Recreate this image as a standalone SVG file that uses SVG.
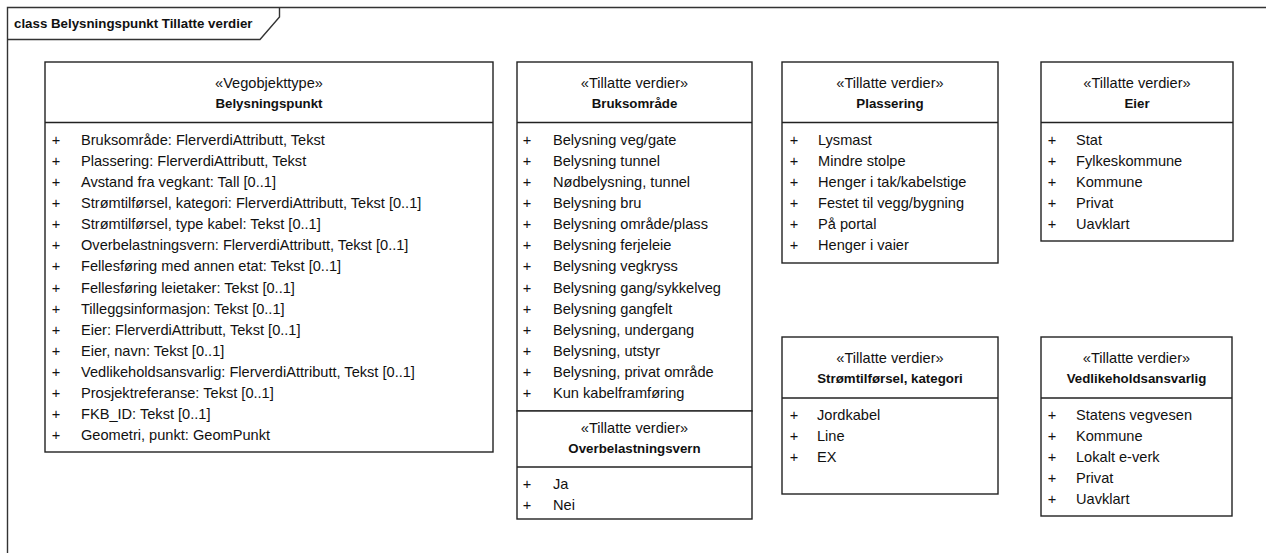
<svg xmlns="http://www.w3.org/2000/svg" width="1266" height="553" viewBox="0 0 1266 553">
<style>
.frame{fill:none;stroke:#333;stroke-width:1.4}
.box{fill:#fff;stroke:#222;stroke-width:1.4}
.div{stroke:#222;stroke-width:1.4}
text{font-family:"Liberation Sans",Arial,sans-serif;fill:#111}
.title{font-size:13.3px;font-weight:bold}
.st{font-size:14.6px;text-anchor:middle}
.nm{font-size:13.3px;font-weight:bold;text-anchor:middle}
.it{font-size:14.6px}
.pl{font-size:14.6px;text-anchor:middle}
</style>
<rect width="1266" height="553" fill="#fff"/>
<g id="frame">
<path class="frame" d="M7.5,553 V7.5 H1266"/>
<path class="frame" d="M7.5,39.5 H260 L279.5,17 V7.5"/>
<text class="title" x="14" y="28">class Belysningspunkt Tillatte verdier</text>
</g>
<g id="connectors"/>
<g id="Belysningspunkt">
<rect class="box" x="45" y="62" width="448" height="390"/>
<line class="div" x1="45" y1="122.5" x2="493" y2="122.5"/>
<text class="st" x="269" y="88">«Vegobjekttype»</text>
<text class="nm" x="269" y="108">Belysningspunkt</text>
<g class="pl"><text class="pl" x="56" y="145">+</text><text class="pl" x="56" y="166.1">+</text><text class="pl" x="56" y="187.1">+</text><text class="pl" x="56" y="208.2">+</text><text class="pl" x="56" y="229.3">+</text><text class="pl" x="56" y="250.4">+</text><text class="pl" x="56" y="271.4">+</text><text class="pl" x="56" y="292.5">+</text><text class="pl" x="56" y="313.6">+</text><text class="pl" x="56" y="334.6">+</text><text class="pl" x="56" y="355.7">+</text><text class="pl" x="56" y="376.8">+</text><text class="pl" x="56" y="397.8">+</text><text class="pl" x="56" y="418.9">+</text><text class="pl" x="56" y="440">+</text></g>
<text class="it" x="81" y="145">Bruksområde: FlerverdiAttributt, Tekst</text>
<text class="it" x="81" y="166.1">Plassering: FlerverdiAttributt, Tekst</text>
<text class="it" x="81" y="187.1">Avstand fra vegkant: Tall [0..1]</text>
<text class="it" x="81" y="208.2">Strømtilførsel, kategori: FlerverdiAttributt, Tekst [0..1]</text>
<text class="it" x="81" y="229.3">Strømtilførsel, type kabel: Tekst [0..1]</text>
<text class="it" x="81" y="250.4">Overbelastningsvern: FlerverdiAttributt, Tekst [0..1]</text>
<text class="it" x="81" y="271.4">Fellesføring med annen etat: Tekst [0..1]</text>
<text class="it" x="81" y="292.5">Fellesføring leietaker: Tekst [0..1]</text>
<text class="it" x="81" y="313.6">Tilleggsinformasjon: Tekst [0..1]</text>
<text class="it" x="81" y="334.6">Eier: FlerverdiAttributt, Tekst [0..1]</text>
<text class="it" x="81" y="355.7">Eier, navn: Tekst [0..1]</text>
<text class="it" x="81" y="376.8">Vedlikeholdsansvarlig: FlerverdiAttributt, Tekst [0..1]</text>
<text class="it" x="81" y="397.8">Prosjektreferanse: Tekst [0..1]</text>
<text class="it" x="81" y="418.9">FKB_ID: Tekst [0..1]</text>
<text class="it" x="81" y="440">Geometri, punkt: GeomPunkt</text>
</g>
<g id="Bruksomraade">
<rect class="box" x="517" y="62" width="235" height="349"/>
<line class="div" x1="517" y1="122.5" x2="752" y2="122.5"/>
<text class="st" x="634.5" y="88">«Tillatte verdier»</text>
<text class="nm" x="634.5" y="108">Bruksområde</text>
<text class="pl" x="527" y="145">+</text><text class="pl" x="527" y="166.1">+</text><text class="pl" x="527" y="187.1">+</text><text class="pl" x="527" y="208.2">+</text><text class="pl" x="527" y="229.3">+</text><text class="pl" x="527" y="250.4">+</text><text class="pl" x="527" y="271.4">+</text><text class="pl" x="527" y="292.5">+</text><text class="pl" x="527" y="313.6">+</text><text class="pl" x="527" y="334.6">+</text><text class="pl" x="527" y="355.7">+</text><text class="pl" x="527" y="376.8">+</text><text class="pl" x="527" y="397.8">+</text>
<text class="it" x="553" y="145">Belysning veg/gate</text>
<text class="it" x="553" y="166.1">Belysning tunnel</text>
<text class="it" x="553" y="187.1">Nødbelysning, tunnel</text>
<text class="it" x="553" y="208.2">Belysning bru</text>
<text class="it" x="553" y="229.3">Belysning område/plass</text>
<text class="it" x="553" y="250.4">Belysning ferjeleie</text>
<text class="it" x="553" y="271.4">Belysning vegkryss</text>
<text class="it" x="553" y="292.5">Belysning gang/sykkelveg</text>
<text class="it" x="553" y="313.6">Belysning gangfelt</text>
<text class="it" x="553" y="334.6">Belysning, undergang</text>
<text class="it" x="553" y="355.7">Belysning, utstyr</text>
<text class="it" x="553" y="376.8">Belysning, privat område</text>
<text class="it" x="553" y="397.8">Kun kabelframføring</text>
</g>
<g id="Overbelastningsvern">
<rect class="box" x="517" y="411" width="235" height="108"/>
<line class="div" x1="517" y1="467" x2="752" y2="467"/>
<text class="st" x="634.5" y="433">«Tillatte verdier»</text>
<text class="nm" x="634.5" y="453">Overbelastningsvern</text>
<text class="pl" x="527" y="489">+</text><text class="pl" x="527" y="510">+</text>
<text class="it" x="553" y="489">Ja</text>
<text class="it" x="553" y="510">Nei</text>
</g>
<g id="Plassering">
<rect class="box" x="782" y="62" width="216" height="201"/>
<line class="div" x1="782" y1="122.5" x2="998" y2="122.5"/>
<text class="st" x="890" y="88">«Tillatte verdier»</text>
<text class="nm" x="890" y="108">Plassering</text>
<text class="pl" x="794" y="145">+</text><text class="pl" x="794" y="166.1">+</text><text class="pl" x="794" y="187.1">+</text><text class="pl" x="794" y="208.2">+</text><text class="pl" x="794" y="229.3">+</text><text class="pl" x="794" y="250.4">+</text>
<text class="it" x="818" y="145">Lysmast</text>
<text class="it" x="818" y="166.1">Mindre stolpe</text>
<text class="it" x="818" y="187.1">Henger i tak/kabelstige</text>
<text class="it" x="818" y="208.2">Festet til vegg/bygning</text>
<text class="it" x="818" y="229.3">På portal</text>
<text class="it" x="818" y="250.4">Henger i vaier</text>
</g>
<g id="Eier">
<rect class="box" x="1041" y="62" width="192" height="179"/>
<line class="div" x1="1041" y1="122.5" x2="1233" y2="122.5"/>
<text class="st" x="1137" y="88">«Tillatte verdier»</text>
<text class="nm" x="1137" y="108">Eier</text>
<text class="pl" x="1052" y="145">+</text><text class="pl" x="1052" y="166.1">+</text><text class="pl" x="1052" y="187.1">+</text><text class="pl" x="1052" y="208.2">+</text><text class="pl" x="1052" y="229.3">+</text>
<text class="it" x="1076" y="145">Stat</text>
<text class="it" x="1076" y="166.1">Fylkeskommune</text>
<text class="it" x="1076" y="187.1">Kommune</text>
<text class="it" x="1076" y="208.2">Privat</text>
<text class="it" x="1076" y="229.3">Uavklart</text>
</g>
<g id="StromtilforselKategori">
<rect class="box" x="782" y="337" width="216" height="157"/>
<line class="div" x1="782" y1="398" x2="998" y2="398"/>
<text class="st" x="890" y="363">«Tillatte verdier»</text>
<text class="nm" x="890" y="383">Strømtilførsel, kategori</text>
<text class="pl" x="794" y="420">+</text><text class="pl" x="794" y="441">+</text><text class="pl" x="794" y="462">+</text>
<text class="it" x="817" y="420">Jordkabel</text>
<text class="it" x="817" y="441">Line</text>
<text class="it" x="817" y="462">EX</text>
</g>
<g id="Vedlikeholdsansvarlig">
<rect class="box" x="1041" y="337" width="191" height="179"/>
<line class="div" x1="1041" y1="398" x2="1232" y2="398"/>
<text class="st" x="1136.5" y="363">«Tillatte verdier»</text>
<text class="nm" x="1136.5" y="383">Vedlikeholdsansvarlig</text>
<text class="pl" x="1052" y="420">+</text><text class="pl" x="1052" y="441">+</text><text class="pl" x="1052" y="462">+</text><text class="pl" x="1052" y="483">+</text><text class="pl" x="1052" y="504">+</text>
<text class="it" x="1076" y="420">Statens vegvesen</text>
<text class="it" x="1076" y="441">Kommune</text>
<text class="it" x="1076" y="462">Lokalt e-verk</text>
<text class="it" x="1076" y="483">Privat</text>
<text class="it" x="1076" y="504">Uavklart</text>
</g>
</svg>
